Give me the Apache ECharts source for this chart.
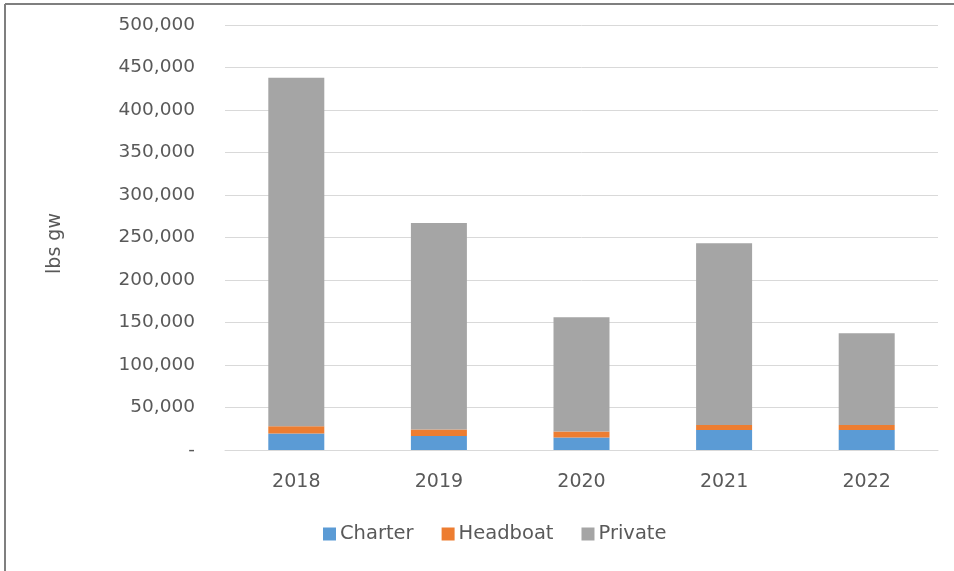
<!DOCTYPE html>
<html>
<head>
<meta charset="utf-8">
<script src="https://cdn.jsdelivr.net/npm/echarts@6/dist/echarts.min.js"></script>
<style>
html,body{margin:0;padding:0;background:#fff;}
#c{width:954px;height:571px;}
</style>
</head>
<body>
<div id="c"></div>
<script>
var years = ['2018', '2019', '2020', '2021', '2022'];
var charter = [19500, 16400, 14800, 23400, 23400];
var headboat = [8500, 7800, 7000, 5900, 5900];
var privateVals = [410000, 242800, 134300, 213900, 108000];
var yTicks = [0, 50000, 100000, 150000, 200000, 250000, 300000, 350000, 400000, 450000, 500000];

var chart = echarts.init(document.getElementById('c'));
var textColor = '#595959';
var font = 'DejaVu Sans';
chart.setOption({
  animation: false,
  backgroundColor: '#fff',
  color: ['#5b9bd5', '#ed7d31', '#a5a5a5'],
  graphic: [
    {type: 'line', shape: {x1: 5, y1: 4, x2: 954, y2: 4}, style: {stroke: '#7f7f7f', lineWidth: 2}},
    {type: 'line', shape: {x1: 5, y1: 4, x2: 5, y2: 571}, style: {stroke: '#7f7f7f', lineWidth: 2}}
  ],
  grid: {left: 225, right: 16, top: 25, bottom: 121, containLabel: false},
  legend: {
    bottom: 22,
    left: 318,
    itemWidth: 13,
    itemHeight: 13,
    itemGap: 28,
    icon: 'rect',
    textStyle: {color: textColor, fontSize: 19.5, fontFamily: font, padding: [0, 0, 0, -1]},
    data: ['Charter', 'Headboat', 'Private']
  },
  xAxis: {
    type: 'category',
    data: years,
    axisLine: {lineStyle: {color: '#d9d9d9', width: 1}},
    axisTick: {show: false},
    axisLabel: {color: textColor, fontSize: 19, fontFamily: font, margin: 23}
  },
  yAxis: {
    type: 'value',
    min: yTicks[0],
    max: yTicks[yTicks.length - 1],
    interval: 50000,
    name: 'lbs gw',
    nameLocation: 'middle',
    nameRotate: 90,
    nameGap: 160,
    nameTextStyle: {color: textColor, fontSize: 19, fontFamily: font, padding: [0, 12, 0, 0]},
    axisLine: {show: false},
    axisTick: {show: false},
    splitLine: {lineStyle: {color: '#d9d9d9', width: 1}},
    axisLabel: {
      color: textColor, fontSize: 18.5, fontFamily: font, margin: 30,
      formatter: function (v) { return v === 0 ? '-' : v.toLocaleString('en-US'); }
    }
  },
  series: [
    {name: 'Charter', type: 'bar', stack: 'all', data: charter, barWidth: 56},
    {name: 'Headboat', type: 'bar', stack: 'all', data: headboat, barWidth: 56},
    {name: 'Private', type: 'bar', stack: 'all', data: privateVals, barWidth: 56}
  ]
});
</script>
</body>
</html>
